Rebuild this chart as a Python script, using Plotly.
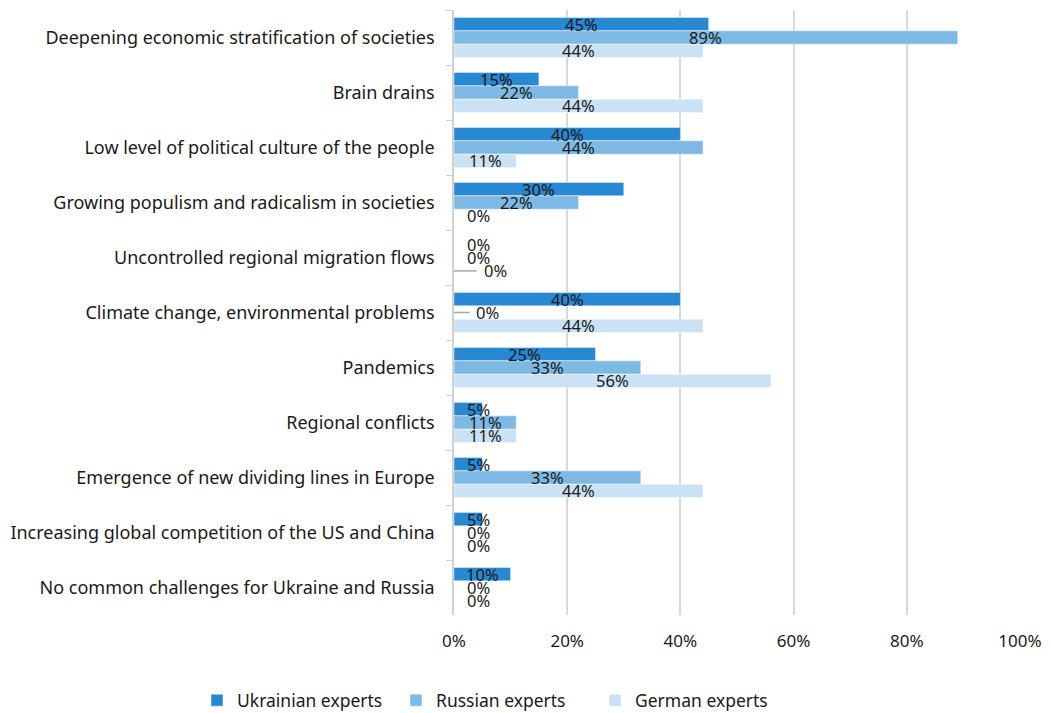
import plotly.graph_objects as go

categories = [
    "Deepening economic stratification of societies",
    "Brain drains",
    "Low level of political culture of the people",
    "Growing populism and radicalism in societies",
    "Uncontrolled regional migration flows",
    "Climate change, environmental problems",
    "Pandemics",
    "Regional conflicts",
    "Emergence of new dividing lines in Europe",
    "Increasing global competition of the US and China",
    "No common challenges for Ukraine and Russia",
]
ukrainian = [45, 15, 40, 30, 0, 40, 25, 5, 5, 5, 10]
russian = [89, 22, 44, 22, 0, 0, 33, 11, 33, 0, 0]
german = [44, 44, 11, 0, 0, 44, 56, 11, 44, 0, 0]

series = [
    ("Ukrainian experts", ukrainian, "#2888D1"),
    ("Russian experts", russian, "#7EB9E4"),
    ("German experts", german, "#CAE2F4"),
]

# labels that Excel pushed out with a leader line: (category index, series index)
leader = {(4, 2), (5, 1)}

FONT = "Noto Sans, sans-serif"
BARGAP = 0.27
w = (1 - BARGAP) / 3
W, H = 1043, 705  # page body has an 8px margin

legend_names = ["legend", "legend2", "legend3"]
legend_left = [189, 388, 587]

fig = go.Figure()
for k, (name, vals, color) in enumerate(series):
    fig.add_trace(go.Bar(
        name=name,
        y=categories,
        x=vals,
        orientation="h",
        marker=dict(color=color, line=dict(width=1, color="rgba(255,255,255,0.45)")),
        hoverinfo="x+name",
        legend=legend_names[k],
    ))

annotations = []
shapes = []
for k, (name, vals, color) in enumerate(series):
    for i, v in enumerate(vals):
        yc = i + (k - 1) * w
        if (i, k) in leader:
            shapes.append(dict(type="line", xref="x", yref="y", x0=0, x1=4.0 if k == 2 else 2.8,
                               y0=yc, y1=yc, line=dict(color="#A6A6A6", width=1.5)))
            xc = 7.3 if k == 2 else 6.0
        else:
            xc = max(v / 2, 4.3)
        annotations.append(dict(
            x=xc, y=yc, xref="x", yref="y", text=f"{v}%", showarrow=False,
            font=dict(family=FONT, size=16.5, color="#1a1a1a"), xanchor="center", yanchor="middle",
        ))

legends = {}
for k, ln in enumerate(legend_names):
    legends[ln] = dict(
        orientation="h",
        xref="container",
        yref="container",
        x=legend_left[k] / W,
        xanchor="left",
        y=0.018,
        yanchor="middle",
        font=dict(size=17.5),
        itemwidth=30,
        bgcolor="rgba(0,0,0,0)",
    )

fig.update_layout(
    barmode="group",
    bargap=BARGAP,
    bargroupgap=0,
    width=W,
    height=H,
    margin=dict(l=446, r=31, t=2, b=98),
    paper_bgcolor="white",
    plot_bgcolor="white",
    font=dict(family=FONT, size=18, color="#1a1a1a"),
    annotations=annotations,
    shapes=shapes,
    xaxis=dict(
        range=[0, 100],
        dtick=20,
        ticksuffix="%",
        showgrid=True,
        gridcolor="rgba(0,0,0,0.15)",
        gridwidth=1.5,
        zeroline=False,
        layer="above traces",
        ticks="outside",
        ticklen=11,
        tickcolor="rgba(0,0,0,0)",
        tickfont=dict(size=17),
    ),
    yaxis=dict(
        autorange=False,
        range=[10.5, -0.5],
        showline=True,
        linecolor="#D0D0D0",
        linewidth=1.5,
        ticks="outside",
        tickson="boundaries",
        ticklen=6,
        tickcolor="#D0D0D0",
        showgrid=False,
        tickfont=dict(size=18),
        ticklabelstandoff=14,
    ),
    showlegend=True,
    **legends,
)

fig.write_html("out.html")
